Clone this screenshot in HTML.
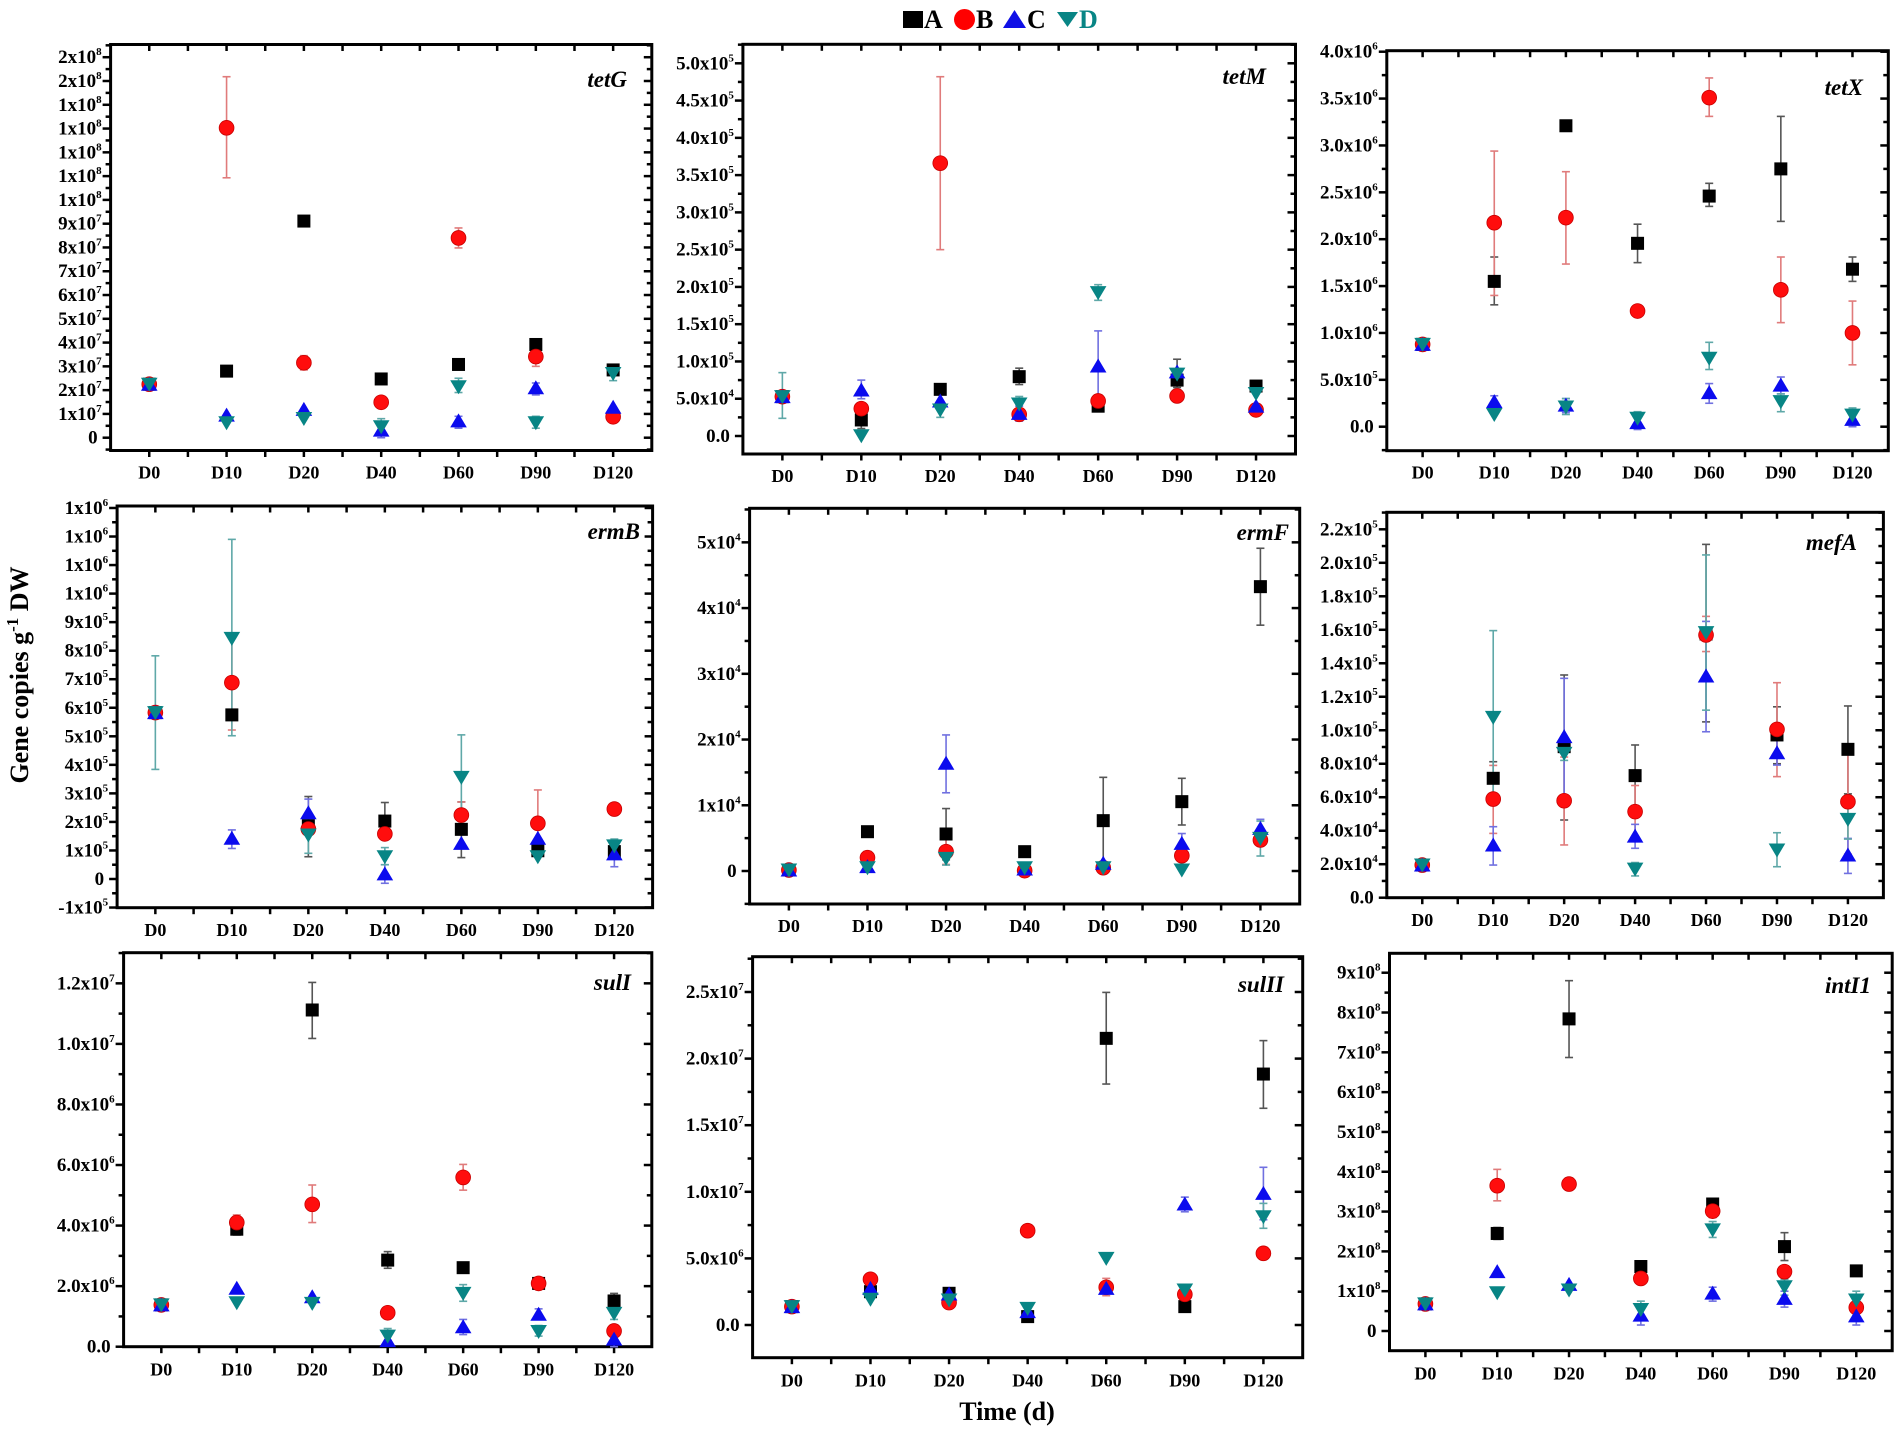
<!DOCTYPE html>
<html>
<head>
<meta charset="utf-8">
<style>
html,body{margin:0;padding:0;background:#fff}
svg{display:block}
</style>
</head>
<body>
<svg id="s" xmlns="http://www.w3.org/2000/svg" width="1897" height="1431" viewBox="0 0 1897 1431" font-family="'Liberation Serif','Times New Roman',serif" font-weight="bold">
<rect width="1897" height="1431" fill="#fff"/>
<g id="shapes"></g>

<!-- Y tick labels -->
<g font-size="19" text-anchor="end" fill="#000">
<!-- tetG -->
<text x="97.6" y="443.7">0</text>
<text x="101.6" y="419.9">1x10<tspan dy="-8" font-size="11">7</tspan></text>
<text x="101.6" y="396.1">2x10<tspan dy="-8" font-size="11">7</tspan></text>
<text x="101.6" y="372.4">3x10<tspan dy="-8" font-size="11">7</tspan></text>
<text x="101.6" y="348.6">4x10<tspan dy="-8" font-size="11">7</tspan></text>
<text x="101.6" y="324.8">5x10<tspan dy="-8" font-size="11">7</tspan></text>
<text x="101.6" y="301.0">6x10<tspan dy="-8" font-size="11">7</tspan></text>
<text x="101.6" y="277.2">7x10<tspan dy="-8" font-size="11">7</tspan></text>
<text x="101.6" y="253.5">8x10<tspan dy="-8" font-size="11">7</tspan></text>
<text x="101.6" y="229.7">9x10<tspan dy="-8" font-size="11">7</tspan></text>
<text x="101.6" y="205.9">1x10<tspan dy="-8" font-size="11">8</tspan></text>
<text x="101.6" y="182.1">1x10<tspan dy="-8" font-size="11">8</tspan></text>
<text x="101.6" y="158.3">1x10<tspan dy="-8" font-size="11">8</tspan></text>
<text x="101.6" y="134.6">1x10<tspan dy="-8" font-size="11">8</tspan></text>
<text x="101.6" y="110.8">1x10<tspan dy="-8" font-size="11">8</tspan></text>
<text x="101.6" y="87.0">2x10<tspan dy="-8" font-size="11">8</tspan></text>
<text x="101.6" y="63.2">2x10<tspan dy="-8" font-size="11">8</tspan></text>
<!-- tetM -->
<text x="729.9" y="442">0.0</text>
<text x="733.9" y="404.7">5.0x10<tspan dy="-8" font-size="11">4</tspan></text>
<text x="733.9" y="367.5">1.0x10<tspan dy="-8" font-size="11">5</tspan></text>
<text x="733.9" y="330.2">1.5x10<tspan dy="-8" font-size="11">5</tspan></text>
<text x="733.9" y="292.9">2.0x10<tspan dy="-8" font-size="11">5</tspan></text>
<text x="733.9" y="255.7">2.5x10<tspan dy="-8" font-size="11">5</tspan></text>
<text x="733.9" y="218.4">3.0x10<tspan dy="-8" font-size="11">5</tspan></text>
<text x="733.9" y="181.1">3.5x10<tspan dy="-8" font-size="11">5</tspan></text>
<text x="733.9" y="143.8">4.0x10<tspan dy="-8" font-size="11">5</tspan></text>
<text x="733.9" y="106.6">4.5x10<tspan dy="-8" font-size="11">5</tspan></text>
<text x="733.9" y="69.3">5.0x10<tspan dy="-8" font-size="11">5</tspan></text>
<!-- tetX -->
<text x="1373.8" y="432.7">0.0</text>
<text x="1377.8" y="385.8">5.0x10<tspan dy="-8" font-size="11">5</tspan></text>
<text x="1377.8" y="339.0">1.0x10<tspan dy="-8" font-size="11">6</tspan></text>
<text x="1377.8" y="292.1">1.5x10<tspan dy="-8" font-size="11">6</tspan></text>
<text x="1377.8" y="245.2">2.0x10<tspan dy="-8" font-size="11">6</tspan></text>
<text x="1377.8" y="198.3">2.5x10<tspan dy="-8" font-size="11">6</tspan></text>
<text x="1377.8" y="151.5">3.0x10<tspan dy="-8" font-size="11">6</tspan></text>
<text x="1377.8" y="104.6">3.5x10<tspan dy="-8" font-size="11">6</tspan></text>
<text x="1377.8" y="57.7">4.0x10<tspan dy="-8" font-size="11">6</tspan></text>
<!-- ermB -->
<text x="108.1" y="913.5">-1x10<tspan dy="-8" font-size="11">5</tspan></text>
<text x="104.1" y="885">0</text>
<text x="108.1" y="856.5">1x10<tspan dy="-8" font-size="11">5</tspan></text>
<text x="108.1" y="827.9">2x10<tspan dy="-8" font-size="11">5</tspan></text>
<text x="108.1" y="799.4">3x10<tspan dy="-8" font-size="11">5</tspan></text>
<text x="108.1" y="770.8">4x10<tspan dy="-8" font-size="11">5</tspan></text>
<text x="108.1" y="742.3">5x10<tspan dy="-8" font-size="11">5</tspan></text>
<text x="108.1" y="713.8">6x10<tspan dy="-8" font-size="11">5</tspan></text>
<text x="108.1" y="685.2">7x10<tspan dy="-8" font-size="11">5</tspan></text>
<text x="108.1" y="656.7">8x10<tspan dy="-8" font-size="11">5</tspan></text>
<text x="108.1" y="628.1">9x10<tspan dy="-8" font-size="11">5</tspan></text>
<text x="108.1" y="599.6">1x10<tspan dy="-8" font-size="11">6</tspan></text>
<text x="108.1" y="571.1">1x10<tspan dy="-8" font-size="11">6</tspan></text>
<text x="108.1" y="542.5">1x10<tspan dy="-8" font-size="11">6</tspan></text>
<text x="108.1" y="514.0">1x10<tspan dy="-8" font-size="11">6</tspan></text>
<!-- ermF -->
<text x="736.6" y="877">0</text>
<text x="740.6" y="811.3">1x10<tspan dy="-8" font-size="11">4</tspan></text>
<text x="740.6" y="745.5">2x10<tspan dy="-8" font-size="11">4</tspan></text>
<text x="740.6" y="679.8">3x10<tspan dy="-8" font-size="11">4</tspan></text>
<text x="740.6" y="614.1">4x10<tspan dy="-8" font-size="11">4</tspan></text>
<text x="740.6" y="548.4">5x10<tspan dy="-8" font-size="11">4</tspan></text>
<!-- mefA -->
<text x="1373.8" y="903.7">0.0</text>
<text x="1377.8" y="870.2">2.0x10<tspan dy="-8" font-size="11">4</tspan></text>
<text x="1377.8" y="836.7">4.0x10<tspan dy="-8" font-size="11">4</tspan></text>
<text x="1377.8" y="803.2">6.0x10<tspan dy="-8" font-size="11">4</tspan></text>
<text x="1377.8" y="769.7">8.0x10<tspan dy="-8" font-size="11">4</tspan></text>
<text x="1377.8" y="736.3">1.0x10<tspan dy="-8" font-size="11">5</tspan></text>
<text x="1377.8" y="702.8">1.2x10<tspan dy="-8" font-size="11">5</tspan></text>
<text x="1377.8" y="669.3">1.4x10<tspan dy="-8" font-size="11">5</tspan></text>
<text x="1377.8" y="635.8">1.6x10<tspan dy="-8" font-size="11">5</tspan></text>
<text x="1377.8" y="602.3">1.8x10<tspan dy="-8" font-size="11">5</tspan></text>
<text x="1377.8" y="568.8">2.0x10<tspan dy="-8" font-size="11">5</tspan></text>
<text x="1377.8" y="535.3">2.2x10<tspan dy="-8" font-size="11">5</tspan></text>
<!-- sulI -->
<text x="110.6" y="1352.7">0.0</text>
<text x="114.6" y="1292.1">2.0x10<tspan dy="-8" font-size="11">6</tspan></text>
<text x="114.6" y="1231.6">4.0x10<tspan dy="-8" font-size="11">6</tspan></text>
<text x="114.6" y="1171.0">6.0x10<tspan dy="-8" font-size="11">6</tspan></text>
<text x="114.6" y="1110.5">8.0x10<tspan dy="-8" font-size="11">6</tspan></text>
<text x="114.6" y="1049.9">1.0x10<tspan dy="-8" font-size="11">7</tspan></text>
<text x="114.6" y="989.4">1.2x10<tspan dy="-8" font-size="11">7</tspan></text>
<!-- sulII -->
<text x="739.6" y="1331">0.0</text>
<text x="743.6" y="1264.4">5.0x10<tspan dy="-8" font-size="11">6</tspan></text>
<text x="743.6" y="1197.8">1.0x10<tspan dy="-8" font-size="11">7</tspan></text>
<text x="743.6" y="1131.2">1.5x10<tspan dy="-8" font-size="11">7</tspan></text>
<text x="743.6" y="1064.6">2.0x10<tspan dy="-8" font-size="11">7</tspan></text>
<text x="743.6" y="998">2.5x10<tspan dy="-8" font-size="11">7</tspan></text>
<!-- intI1 -->
<text x="1376.5" y="1337">0</text>
<text x="1380.5" y="1297.2">1x10<tspan dy="-8" font-size="11">8</tspan></text>
<text x="1380.5" y="1257.4">2x10<tspan dy="-8" font-size="11">8</tspan></text>
<text x="1380.5" y="1217.6">3x10<tspan dy="-8" font-size="11">8</tspan></text>
<text x="1380.5" y="1177.8">4x10<tspan dy="-8" font-size="11">8</tspan></text>
<text x="1380.5" y="1138.0">5x10<tspan dy="-8" font-size="11">8</tspan></text>
<text x="1380.5" y="1098.1">6x10<tspan dy="-8" font-size="11">8</tspan></text>
<text x="1380.5" y="1058.3">7x10<tspan dy="-8" font-size="11">8</tspan></text>
<text x="1380.5" y="1018.5">8x10<tspan dy="-8" font-size="11">8</tspan></text>
<text x="1380.5" y="978.7">9x10<tspan dy="-8" font-size="11">8</tspan></text>
</g>

<!-- X tick labels -->
<g font-size="18" text-anchor="middle" fill="#000">
<!-- tetG -->
<text x="149.3" y="478.5">D0</text><text x="226.6" y="478.5">D10</text><text x="303.9" y="478.5">D20</text><text x="381.2" y="478.5">D40</text><text x="458.5" y="478.5">D60</text><text x="535.8" y="478.5">D90</text><text x="613.1" y="478.5">D120</text>
<!-- tetM -->
<text x="782.4" y="482">D0</text><text x="861.3" y="482">D10</text><text x="940.2" y="482">D20</text><text x="1019.2" y="482">D40</text><text x="1098.1" y="482">D60</text><text x="1177.1" y="482">D90</text><text x="1256.0" y="482">D120</text>
<!-- tetX -->
<text x="1422.6" y="478.7">D0</text><text x="1494.3" y="478.7">D10</text><text x="1565.9" y="478.7">D20</text><text x="1637.6" y="478.7">D40</text><text x="1709.2" y="478.7">D60</text><text x="1780.8" y="478.7">D90</text><text x="1852.5" y="478.7">D120</text>
<!-- ermB -->
<text x="155.4" y="936">D0</text><text x="231.9" y="936">D10</text><text x="308.4" y="936">D20</text><text x="384.9" y="936">D40</text><text x="461.4" y="936">D60</text><text x="537.9" y="936">D90</text><text x="614.4" y="936">D120</text>
<!-- ermF -->
<text x="788.9" y="932">D0</text><text x="867.5" y="932">D10</text><text x="946.1" y="932">D20</text><text x="1024.7" y="932">D40</text><text x="1103.2" y="932">D60</text><text x="1181.8" y="932">D90</text><text x="1260.4" y="932">D120</text>
<!-- mefA -->
<text x="1422.3" y="926">D0</text><text x="1493.2" y="926">D10</text><text x="1564.2" y="926">D20</text><text x="1635.1" y="926">D40</text><text x="1706.1" y="926">D60</text><text x="1777.0" y="926">D90</text><text x="1848.0" y="926">D120</text>
<!-- sulI -->
<text x="161.3" y="1375.3">D0</text><text x="236.8" y="1375.3">D10</text><text x="312.2" y="1375.3">D20</text><text x="387.7" y="1375.3">D40</text><text x="463.2" y="1375.3">D60</text><text x="538.6" y="1375.3">D90</text><text x="614.1" y="1375.3">D120</text>
<!-- sulII -->
<text x="791.9" y="1386.7">D0</text><text x="870.5" y="1386.7">D10</text><text x="949.1" y="1386.7">D20</text><text x="1027.7" y="1386.7">D40</text><text x="1106.2" y="1386.7">D60</text><text x="1184.8" y="1386.7">D90</text><text x="1263.4" y="1386.7">D120</text>
<!-- intI1 -->
<text x="1425.4" y="1379.3">D0</text><text x="1497.2" y="1379.3">D10</text><text x="1569.0" y="1379.3">D20</text><text x="1640.8" y="1379.3">D40</text><text x="1712.6" y="1379.3">D60</text><text x="1784.4" y="1379.3">D90</text><text x="1856.3" y="1379.3">D120</text>
</g>

<!-- Gene labels -->
<g font-size="23" font-style="italic" text-anchor="end" fill="#000">
<text x="627" y="87">tetG</text>
<text x="1266" y="84">tetM</text>
<text x="1863" y="95">tetX</text>
<text x="640" y="539">ermB</text>
<text x="1289" y="540">ermF</text>
<text x="1857" y="550">mefA</text>
<text x="631" y="990">sulI</text>
<text x="1284" y="992">sulII</text>
<text x="1871" y="993">intI1</text>
</g>

<!-- Legend -->
<g font-size="26">
<rect x="903" y="11" width="20" height="17" fill="#000"/>
<text x="924" y="28" fill="#000">A</text>
<circle cx="964.5" cy="19.5" r="10.5" fill="#ff0000"/>
<text x="976" y="28" fill="#000">B</text>
<polygon points="1014.5,10 1003,28 1026,28" fill="#1010e6"/>
<text x="1027" y="28" fill="#000">C</text>
<polygon points="1057,12 1078,12 1067.5,27" fill="#088585"/>
<text x="1079" y="28" fill="#088585">D</text>
</g>

<!-- Axis titles -->
<text transform="translate(28,675) rotate(-90)" text-anchor="middle" font-size="26" fill="#000">Gene copies g<tspan dy="-10" font-size="17">-1</tspan><tspan dy="10"> DW</tspan></text>
<text x="1007" y="1420" text-anchor="middle" font-size="26" fill="#000">Time (d)</text>
</svg>

<script>
(function(){
var NS='http://www.w3.org/2000/svg';
var G=document.getElementById('shapes');
function el(tag,a,p){var e=document.createElementNS(NS,tag);for(var k in a)e.setAttribute(k,a[k]);(p||G).appendChild(e);return e;}
var P=[
{L:110.6,R:651.8,T:44.5,B:450.5,y0:437.7,k:23.78,M:1,m:0.5,
A:[2.25,2.80,9.11,2.47,3.08,3.92,2.85],
Bs:[2.25,[13.03,10.93,15.18],[3.15,2.85,3.45],1.49,[8.40,7.98,8.82],[3.41,3.0,3.75],0.88],
C:[2.25,0.95,1.19,[0.32,0.0,0.6],[0.71,0.4,0.9],[2.10,1.8,2.3],1.28],
D:[[2.25,2.0,2.5],0.63,0.81,[0.46,0.1,0.8],[2.14,1.9,2.5],[0.63,0.4,0.9],[2.7,2.4,3.0]]},
{L:742.9,R:1295.5,T:44.3,B:454,y0:436,k:7.454,M:5,m:2.5,
A:[5.28,[2.15,1.0,3.3],6.26,[7.96,6.9,9.1],4.0,[7.5,6.5,10.3],6.7],
Bs:[5.28,3.67,[36.6,25.0,48.2],2.9,4.7,5.37,3.5],
C:[5.28,[6.17,5.0,7.5],4.7,[3.04,2.0,4.0],[9.39,4.7,14.1],8.6,4.0],
D:[[5.28,2.37,8.5],0.04,[3.49,2.5,4.5],[4.29,3.3,5.3],[19.23,18.2,20.3],8.3,5.7]},
{L:1386.8,R:1888.3,T:50.7,B:450.7,y0:426.7,k:9.375,M:5,m:2.5,
A:[8.78,[15.5,13.0,18.1],32.1,[19.56,17.5,21.6],[24.6,23.5,25.96],[27.5,21.9,33.1],[16.8,15.5,18.1]],
Bs:[8.78,[21.76,14.0,29.4],[22.3,17.35,27.2],[12.34,12.0,12.7],[35.1,33.1,37.2],[14.6,11.1,18.1],[10.0,6.6,13.4]],
C:[8.78,[2.67,2.0,3.3],[2.3,1.5,3.0],[0.43,-0.3,1.2],[3.63,2.5,4.6],[4.44,3.5,5.3],[0.78,0.0,1.5]],
D:[8.78,1.3,[2.1,1.3,3.0],[0.9,0.2,1.6],[7.3,6.1,9.0],[2.67,1.6,3.5],[1.24,0.5,2.0]]},
{L:117.1,R:652.6,T:506,B:907.7,y0:879,k:28.54,M:1,m:0.5,
A:[5.83,5.75,[1.87,0.78,2.89],[2.03,1.4,2.68],[1.74,0.75,2.7],0.99,0.96],
Bs:[5.83,[6.88,5.22,8.5],1.75,1.58,[2.24,1.8,2.7],[1.95,0.9,3.12],[2.45,2.25,2.65]],
C:[5.83,[1.43,1.07,1.72],[2.32,1.8,2.8],[0.18,-0.15,0.5],1.25,1.43,[0.88,0.43,1.3]],
D:[[5.83,3.84,7.82],[8.43,5.02,11.9],[1.54,0.9,2.2],[0.78,0.5,1.1],[3.56,2.1,5.05],0.78,[1.16,0.9,1.4]]},
{L:749.6,R:1299.7,T:508.3,B:904,y0:871,k:6.573,M:10,m:5,
A:[0.15,5.98,[5.63,1.7,9.5],2.94,[7.66,1.0,14.25],[10.55,7.0,14.1],[43.26,37.4,49.1]],
Bs:[0.15,[2.03,1.0,3.0],[2.94,1.0,4.9],0.05,0.5,[2.33,1.5,3.1],4.72],
C:[0.15,0.66,[16.4,11.9,20.7],0.3,1.17,[4.2,2.7,5.7],[6.49,5.1,7.86]],
D:[0.15,0.5,[1.93,0.9,3.0],0.5,0.5,0.15,[4.97,2.28,7.6]]},
{L:1386.8,R:1883.4,T:512.3,B:897.7,y0:897.7,k:16.745,M:2,m:1,
A:[1.95,[7.13,6.1,8.12],[9.02,4.64,13.3],[7.29,5.5,9.12],[15.75,10.5,21.1],[9.72,8.0,11.4],[8.86,6.2,11.45]],
Bs:[1.95,[5.89,3.84,7.9],[5.79,3.15,8.4],[5.14,3.6,6.7],[15.69,14.7,16.8],[10.05,7.23,12.84],[5.73,2.6,8.82]],
C:[1.95,[3.15,1.95,4.24],[9.62,6.1,13.1],[3.68,2.95,4.38],[13.24,9.91,16.5],[8.66,7.92,9.4],[2.55,1.45,3.54]],
D:[1.95,[10.77,5.6,15.95],[8.62,8.2,9.0],[1.71,1.3,2.1],[15.83,11.2,20.47],[2.85,1.85,3.88],[4.68,3.5,6.0]]},
{L:123.6,R:651.8,T:952.7,B:1346.7,y0:1346.7,k:30.28,M:2,m:1,
A:[1.38,[3.88,3.69,4.07],[11.12,10.18,12.03],[2.86,2.59,3.14],[2.61,2.46,2.76],[2.09,1.95,2.2],[1.51,1.26,1.76]],
Bs:[1.38,[4.10,3.85,4.35],[4.70,4.10,5.34],1.12,[5.59,5.17,6.02],2.09,0.52],
C:[1.38,1.93,1.65,0.2,[0.66,0.4,0.9],[1.07,0.9,1.25],[0.25,0,0.5]],
D:[1.38,1.45,1.43,[0.35,0.2,0.6],[1.76,1.5,2.05],[0.5,0.35,0.7],[1.1,0.9,1.3]]},
{L:752.6,R:1302.7,T:956.7,B:1357.7,y0:1325,k:13.32,M:5,m:2.5,
A:[1.38,2.5,2.38,0.63,[21.52,18.09,24.97],1.38,[18.84,16.27,21.35]],
Bs:[1.38,[3.43,3.1,3.8],1.68,7.08,[2.83,2.2,3.5],2.3,[5.38,5.05,5.7]],
C:[1.38,2.75,2.33,1.0,2.75,[9.08,8.5,9.6],[9.88,7.9,11.84]],
D:[1.38,1.93,1.88,1.25,5.0,2.63,[8.13,7.26,9.13]]},
{L:1389.5,R:1892.2,T:953.3,B:1350.7,y0:1331,k:39.81,M:1,m:0.5,
A:[0.68,[2.45,2.3,2.6],[7.84,6.87,8.80],1.62,3.19,[2.12,1.77,2.47],1.51],
Bs:[0.68,[3.65,3.27,4.06],[3.69,3.54,3.84],1.32,[3.01,2.85,3.15],1.49,0.59],
C:[0.68,1.49,1.17,[0.40,0.15,0.6],[0.95,0.75,1.1],[0.82,0.6,1.0],[0.38,0.15,0.6]],
D:[0.68,0.96,1.03,[0.54,0.3,0.75],[2.54,2.35,2.75],[1.11,0.9,1.3],[0.78,0.6,1.0]]}
];
var ERR={A:'#555555',Bs:'#e07b7b',C:'#7070e0',D:'#5fa8a8'};
P.forEach(function(p){
  var vB=(p.y0-p.B)/p.k, vT=(p.y0-p.T)/p.k;
  var i0=Math.ceil(vB/p.m-1e-6), i1=Math.floor(vT/p.m+1e-6);
  for(var i=i0;i<=i1;i++){
    var v=i*p.m, y=p.y0-v*p.k;
    var r=v/p.M, maj=Math.abs(r-Math.round(r))<1e-6, len=maj?8:5;
    el('line',{x1:p.L-len,x2:p.L,y1:y,y2:y,stroke:'#000','stroke-width':2.5});
    el('line',{x1:p.R-len,x2:p.R,y1:y,y2:y,stroke:'#000','stroke-width':2.5});
  }
  var st=(p.R-p.L)/7;
  for(var j=1;j<14;j++){
    var x=p.L+j*st/2;
    el('line',{x1:x,x2:x,y1:p.B,y2:p.B+6.5,stroke:'#000','stroke-width':2.5});
    el('line',{x1:x,x2:x,y1:p.T,y2:p.T+6.5,stroke:'#000','stroke-width':2.5});
  }
  el('rect',{x:p.L,y:p.T,width:p.R-p.L,height:p.B-p.T,fill:'none',stroke:'#000','stroke-width':3});
  function Y(v){return p.y0-v*p.k;}
  ['A','Bs','C','D'].forEach(function(s){
    p[s].forEach(function(d,i){
      if(Array.isArray(d)){
        var x=p.L+(i+0.5)*st, y1=Y(d[1]), y2=Y(d[2]);
        var c=ERR[s];
        el('line',{x1:x,x2:x,y1:y1,y2:y2,stroke:c,'stroke-width':1.6});
        el('line',{x1:x-4,x2:x+4,y1:y1,y2:y1,stroke:c,'stroke-width':1.6});
        el('line',{x1:x-4,x2:x+4,y1:y2,y2:y2,stroke:c,'stroke-width':1.6});
      }
    });
  });
  ['A','Bs','C','D'].forEach(function(s){
    p[s].forEach(function(d,i){
      var v=Array.isArray(d)?d[0]:d;
      var x=p.L+(i+0.5)*st, y=Y(v);
      if(s==='A') el('rect',{x:x-6.5,y:y-6.5,width:13,height:13,fill:'#000'});
      else if(s==='Bs') el('circle',{cx:x,cy:y,r:7.4,fill:'#ff0d0d',stroke:'#c80000','stroke-width':0.8});
      else if(s==='C') el('polygon',{points:(x)+','+(y-7.5)+' '+(x-8.3)+','+(y+6.5)+' '+(x+8.3)+','+(y+6.5),fill:'#0b0bee'});
      else el('polygon',{points:(x-8.3)+','+(y-6.5)+' '+(x+8.3)+','+(y-6.5)+' '+(x)+','+(y+7.5),fill:'#088585'});
    });
  });
});
})();
</script>
</body>
</html>
